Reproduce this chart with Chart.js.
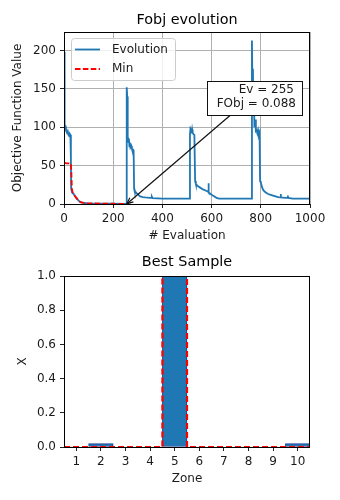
<!DOCTYPE html>
<html>
<head>
<meta charset="utf-8">
<script src="https://cdn.jsdelivr.net/npm/chart.js@4.4.0/dist/chart.umd.min.js"></script>
<style>
  html, body { margin: 0; padding: 0; background: #fff; }
  canvas { display: block; }
</style>
</head>
<body>
<canvas id="evolution-chart" width="340" height="250"></canvas>
<canvas id="sample-chart" width="340" height="250"></canvas>
<script>
// Evolução da função objetivo
const evoEval = [
  0, 2, 3, 6, 8, 12, 15, 18, 22, 24,
  26, 28, 29, 33, 36, 40, 45, 50, 55, 60,
  65, 70, 80, 90, 100, 150, 200, 254, 255, 257,
  258, 260, 262, 264, 266, 268, 270, 273, 276, 280,
  283, 285, 287, 290, 295, 300, 305, 310, 320, 330,
  350, 355, 357, 360, 400, 510, 512, 514, 517, 519,
  521, 523, 526, 530, 533, 536, 545, 555, 565, 580,
  586, 587, 589, 600, 610, 620, 630, 700, 762, 764,
  766, 768, 770, 772, 774, 777, 780, 783, 786, 789,
  792, 795, 797, 800, 805, 810, 820, 830, 840, 850,
  860, 870, 880, 881, 882, 900, 909, 910, 911, 930,
  1000
];
const evoFobj = [
  198, 120, 100, 101, 96, 93, 95, 90, 88, 91,
  90, 60, 20, 15, 14, 13, 10, 8, 6, 4,
  3, 2, 1.5, 1, 0.8, 0.5, 0.3, 0.088, 152, 140,
  100, 80, 85, 84, 75, 80, 74, 76, 72, 71,
  70, 20, 17, 16, 14, 13, 11, 10, 9, 8.5,
  8, 8, 9.5, 7.5, 7, 7, 90, 98, 96, 92,
  97, 93, 91, 90, 30, 26, 23, 21, 19, 17,
  16, 27, 15, 12, 10, 8, 7, 7, 7, 213,
  150, 176, 120, 150, 100, 110, 95, 96, 92, 96,
  90, 93, 30, 28, 22, 18, 15, 13, 12, 11,
  10, 9, 8.5, 13, 8.5, 8, 8, 11, 8, 7,
  7
];

// Mínimo acumulado
const minEval = [0, 10, 28, 30, 32, 35, 40, 45, 50, 55, 60, 65, 70, 80, 90, 100, 150, 200, 255];
const minFobj = [54, 53, 53, 40, 20, 15, 13, 10, 8, 6, 4, 3, 2, 1.5, 1, 0.8, 0.5, 0.3, 0.088];

const bestEval = 255;
const bestFobj = 0.088;

const evoXTicks = [0, 200, 400, 600, 800, 1000];
const evoYTicks = [0, 50, 100, 150, 200];

// Melhor amostra por zona
const zones = [1, 2, 3, 4, 5, 6, 7, 8, 9, 10];
const sampleX = [0, 0.02, 0, 0, 1, 0, 0, 0, 0, 0.02];
const zoneRef = [0, 0, 0, 0, 1, 0, 0, 0, 0, 0];
const sampleYTicks = [0, 0.2, 0.4, 0.6, 0.8, 1.0];

const FONTE = '"DejaVu Sans", sans-serif';
const COR_TEXTO = "#1a1a1a";
const TAM = 12; // tamanho da fonte dos eixos
Chart.defaults.font.family = FONTE;
Chart.defaults.color = COR_TEXTO;

// Moldura preta em volta da área do gráfico
function desenharMoldura(chart) {
  const { ctx, chartArea: a } = chart;
  ctx.save();
  ctx.strokeStyle = "#000";
  ctx.lineWidth = 1;
  ctx.strokeRect(Math.round(a.left) + 0.5, Math.round(a.top) + 0.5,
    Math.round(a.right - a.left) - 1, Math.round(a.bottom - a.top));
  ctx.restore();
}

function desenharTitulo(chart, texto, y) {
  const { ctx, chartArea: a } = chart;
  ctx.save();
  ctx.font = `14.4px ${FONTE}`;
  ctx.fillStyle = "#000";
  ctx.textAlign = "center";
  ctx.textBaseline = "middle";
  ctx.fillText(texto, (a.left + a.right) / 2, y);
  ctx.restore();
}

// Legenda desenhada dentro da área (canto superior esquerdo)
function desenharLegenda(chart) {
  const { ctx } = chart;
  const itens = chart.data.datasets;
  ctx.save();
  ctx.fillStyle = "rgba(255,255,255,0.8)";
  ctx.strokeStyle = "#cccccc";
  ctx.lineWidth = 1;
  ctx.beginPath();
  ctx.roundRect(71.5, 38.5, 104, 42, 3);
  ctx.fill();
  ctx.stroke();
  ctx.font = `${TAM}px ${FONTE}`;
  ctx.textBaseline = "middle";
  ctx.textAlign = "left";
  itens.forEach((ds, i) => {
    const y = 49.5 + i * 19.5;
    ctx.strokeStyle = ds.borderColor;
    ctx.lineWidth = ds.borderWidth;
    ctx.setLineDash(ds.borderDash || []);
    ctx.beginPath();
    ctx.moveTo(75, y);
    ctx.lineTo(100, y);
    ctx.stroke();
    ctx.setLineDash([]);
    ctx.fillStyle = COR_TEXTO;
    ctx.fillText(ds.label, 112, y);
  });
  ctx.restore();
}

// Caixa com seta apontando para o melhor ponto
function desenharAnotacao(chart) {
  const { ctx } = chart;
  const alvoX = chart.scales.x.getPixelForValue(bestEval);
  const alvoY = chart.scales.y.getPixelForValue(bestFobj);
  const caixa = { left: 207.5, top: 81.5, right: 302.5, bottom: 115.5 };
  const inicioX = 230, inicioY = caixa.bottom;

  ctx.save();
  ctx.strokeStyle = "#111";
  ctx.lineWidth = 1.2;
  ctx.beginPath();
  ctx.moveTo(inicioX, inicioY);
  ctx.lineTo(alvoX, alvoY);
  ctx.stroke();
  const ang = Math.atan2(alvoY - inicioY, alvoX - inicioX);
  const tam = 7;
  ctx.beginPath();
  ctx.moveTo(alvoX - tam * Math.cos(ang - 0.4), alvoY - tam * Math.sin(ang - 0.4));
  ctx.lineTo(alvoX, alvoY);
  ctx.lineTo(alvoX - tam * Math.cos(ang + 0.4), alvoY - tam * Math.sin(ang + 0.4));
  ctx.stroke();

  ctx.lineWidth = 1;
  ctx.fillStyle = "#fff";
  ctx.fillRect(caixa.left, caixa.top, caixa.right - caixa.left, caixa.bottom - caixa.top);
  ctx.strokeRect(caixa.left, caixa.top, caixa.right - caixa.left, caixa.bottom - caixa.top);

  ctx.font = `${TAM}px ${FONTE}`;
  ctx.fillStyle = COR_TEXTO;
  ctx.textAlign = "right";
  ctx.textBaseline = "middle";
  ctx.fillText(`Ev = ${bestEval}`, 294, 90);
  ctx.fillText(`FObj = ${bestFobj}`, 296, 104);
  ctx.restore();
}

function eixoBase(ticks) {
  return {
    type: "linear",
    border: { display: false },
    grid: { color: "#b0b0b0", lineWidth: 1, tickColor: "#222", tickLength: 4 },
    ticks: { font: { size: TAM }, color: COR_TEXTO, padding: 4, callback: (v) => String(v) },
    afterBuildTicks: (scale) => { scale.ticks = ticks.map((v) => ({ value: v })); },
  };
}

// Gráfico de evolução da função objetivo
const ctxEvolucao = document.getElementById("evolution-chart").getContext("2d");
new Chart(ctxEvolucao, {
  type: "line",
  data: {
    datasets: [
      {
        label: "Evolution",
        data: evoEval.map((x, i) => ({ x: x, y: evoFobj[i] })),
        borderColor: "#1f77b4",
        borderWidth: 1.8,
        pointRadius: 0,
        tension: 0,
        order: 1,
      },
      {
        label: "Min",
        data: minEval.map((x, i) => ({ x: x, y: minFobj[i] })),
        borderColor: "#ff0000",
        borderWidth: 1.8,
        borderDash: [5.5, 2.4],
        pointRadius: 0,
        tension: 0,
        order: 0,
      },
    ],
  },
  options: {
    responsive: false,
    animation: false,
    devicePixelRatio: 1,
    layout: { padding: { top: 32, right: 30, left: 0, bottom: 0 } },
    plugins: { legend: { display: false }, tooltip: { enabled: false } },
    scales: {
      x: {
        ...eixoBase(evoXTicks),
        min: 0,
        max: 1000,
        title: { display: true, text: "# Evaluation", font: { size: TAM }, color: COR_TEXTO, padding: { top: 0, bottom: 7 } },
        afterFit: (scale) => { scale.height = 46; },
      },
      y: {
        ...eixoBase(evoYTicks),
        min: 0,
        max: 224,
        title: { display: true, text: "Objective Function Value", font: { size: TAM }, color: COR_TEXTO, padding: { top: 11, bottom: 0 } },
        afterFit: (scale) => { scale.width = 64; },
      },
    },
  },
  plugins: [{
    id: "extrasEvolucao",
    afterDraw(chart) {
      desenharMoldura(chart);
      desenharLegenda(chart);
      desenharAnotacao(chart);
      desenharTitulo(chart, "Fobj evolution", 20);
    },
  }],
});

// Gráfico da melhor amostra
const bordas = zones.map((z) => z - 0.5).concat(zones[zones.length - 1] + 0.5);
const refDegraus = zoneRef.concat(zoneRef[zoneRef.length - 1]);

const ctxAmostra = document.getElementById("sample-chart").getContext("2d");
new Chart(ctxAmostra, {
  type: "bar",
  data: {
    datasets: [
      {
        type: "bar",
        label: "Sample",
        data: zones.map((z, i) => ({ x: z, y: sampleX[i] })),
        backgroundColor: "#1f77b4",
        borderColor: "#1c3a94",
        borderWidth: 1,
        borderSkipped: false,
        barPercentage: 1,
        categoryPercentage: 1,
        order: 1,
      },
      {
        type: "line",
        label: "Ref",
        data: bordas.map((x, i) => ({ x: x, y: refDegraus[i] })),
        borderColor: "#ff0000",
        borderWidth: 2.2,
        borderDash: [6, 3],
        stepped: "before",
        pointRadius: 0,
        fill: false,
        order: 0,
      },
    ],
  },
  options: {
    responsive: false,
    animation: false,
    devicePixelRatio: 1,
    layout: { padding: { top: 26, right: 30, left: 0, bottom: 0 } },
    plugins: { legend: { display: false }, tooltip: { enabled: false } },
    scales: {
      x: {
        ...eixoBase(zones),
        offset: false,
        min: 0.5,
        max: 10.5,
        grid: { display: true, drawOnChartArea: false, offset: false, tickColor: "#222", tickLength: 4 },
        title: { display: true, text: "Zone", font: { size: TAM }, color: COR_TEXTO, padding: { top: 0, bottom: 13.5 } },
        afterFit: (scale) => { scale.height = 53; },
      },
      y: {
        ...eixoBase(sampleYTicks),
        min: 0,
        max: 1,
        grid: { display: true, drawOnChartArea: false, tickColor: "#222", tickLength: 4 },
        ticks: { font: { size: TAM }, color: COR_TEXTO, padding: 4, callback: (v) => v.toFixed(1) },
        title: { display: true, text: "X", font: { size: TAM }, color: COR_TEXTO, padding: { top: 16, bottom: 0 } },
        afterFit: (scale) => { scale.width = 64; },
      },
    },
  },
  plugins: [{
    id: "extrasAmostra",
    afterDraw(chart) {
      desenharMoldura(chart);
      desenharTitulo(chart, "Best Sample", 12.3);
    },
  }],
});
</script>
</body>
</html>
